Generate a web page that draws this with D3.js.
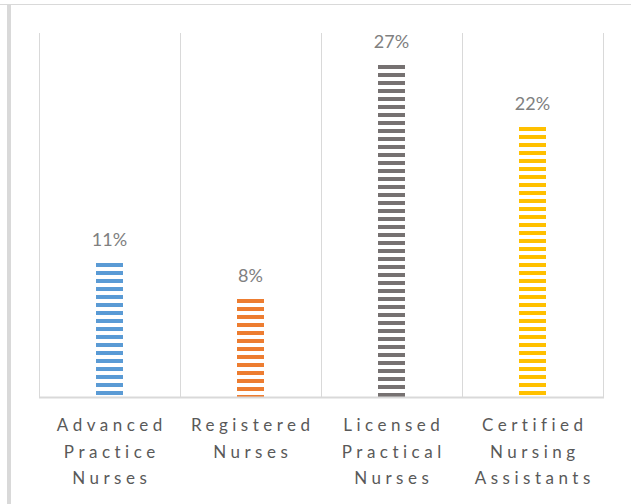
<!DOCTYPE html>
<html>
<head>
<meta charset="utf-8">
<script src="https://cdn.jsdelivr.net/npm/d3@7"></script>
<style>
  html, body { margin: 0; padding: 0; background: #ffffff; }
  svg { display: block; }
</style>
</head>
<body>
<svg id="chart" width="631" height="504"></svg>
<script>
// Share of each nursing workforce group
const categories = [
  ["Advanced", "Practice", "Nurses"],
  ["Registered", "Nurses"],
  ["Licensed", "Practical", "Nurses"],
  ["Certified", "Nursing", "Assistants"]
];
const values = [0.11, 0.08, 0.27, 0.22];
const valueLabels = ["11%", "8%", "27%", "22%"];
const colors = ["#5b9bd5", "#ed7d31", "#767171", "#ffc000"];

const W = 631, H = 504;
const plot = { left: 39, right: 603, top: 33, bottom: 398 };
const fontFamily = "Lato, 'Open Sans', 'Liberation Sans', sans-serif";

const svg = d3.select("#chart");
const keys = categories.map(c => c.join(" "));

const x = d3.scaleBand().domain(keys).range([plot.left, plot.right]).padding(0);
const y = d3.scaleLinear().domain([0, 0.3]).range([plot.bottom, 28.5]);
const barW = 27;

// Horizontal stripe fills, each starting with a full stripe at the bar top
const defs = svg.append("defs");
values.forEach((v, i) => {
  const p = defs.append("pattern")
    .attr("id", "stripe" + i)
    .attr("patternUnits", "userSpaceOnUse")
    .attr("x", 0).attr("y", Math.round(y(v)))
    .attr("width", 8).attr("height", 8);
  p.append("rect").attr("x", 0).attr("y", 0).attr("width", 8).attr("height", 4).attr("fill", colors[i]);
});

// Outer frame edges
svg.append("line")
  .attr("x1", 0).attr("x2", W).attr("y1", 4.5).attr("y2", 4.5)
  .attr("stroke", "#d9d9d9").attr("stroke-width", 1);
svg.append("rect")
  .attr("x", 7).attr("y", 4).attr("width", 4).attr("height", H - 4)
  .attr("fill", "#d9d9d9");

// Category separators
const bounds = keys.map(k => x(k)).concat([plot.right]);
svg.append("g").selectAll("line")
  .data(bounds)
  .join("line")
  .attr("x1", d => Math.round(d) + 0.5).attr("x2", d => Math.round(d) + 0.5)
  .attr("y1", plot.top).attr("y2", plot.bottom)
  .attr("stroke", "#d9d9d9").attr("stroke-width", 1);

// Bars
svg.append("g").selectAll("rect")
  .data(values)
  .join("rect")
  .attr("x", (d, i) => x(keys[i]) + (x.bandwidth() - barW) / 2)
  .attr("width", barW)
  .attr("y", d => Math.round(y(d)))
  .attr("height", d => y(0) - Math.round(y(d)))
  .attr("fill", (d, i) => `url(#stripe${i})`);

// Baseline
svg.append("line")
  .attr("x1", plot.left).attr("x2", plot.right + 1)
  .attr("y1", plot.bottom - 0.5).attr("y2", plot.bottom - 0.5)
  .attr("stroke", "#d9d9d9").attr("stroke-width", 2);

// Value labels
svg.append("g").selectAll("text")
  .data(values)
  .join("text")
  .attr("x", (d, i) => x(keys[i]) + x.bandwidth() / 2)
  .attr("y", d => y(d) - 17)
  .attr("text-anchor", "middle")
  .attr("font-family", fontFamily)
  .attr("font-size", 18)
  .attr("fill", "#808080")
  .text((d, i) => valueLabels[i]);

// Category labels, letter-spaced and wrapped
const spacing = 4.5;
const lab = svg.append("g").selectAll("text")
  .data(categories)
  .join("text")
  .attr("text-anchor", "middle")
  .attr("font-family", fontFamily)
  .attr("font-size", 17)
  .attr("letter-spacing", spacing)
  .attr("fill", "#595959");
lab.each(function(lines, i) {
  const cx = x(keys[i]) + x.bandwidth() / 2 + spacing / 2;
  d3.select(this).selectAll("tspan")
    .data(lines)
    .join("tspan")
    .attr("x", cx)
    .attr("y", (d, j) => 431 + j * 26.5)
    .text(d => d);
});
</script>
</body>
</html>
